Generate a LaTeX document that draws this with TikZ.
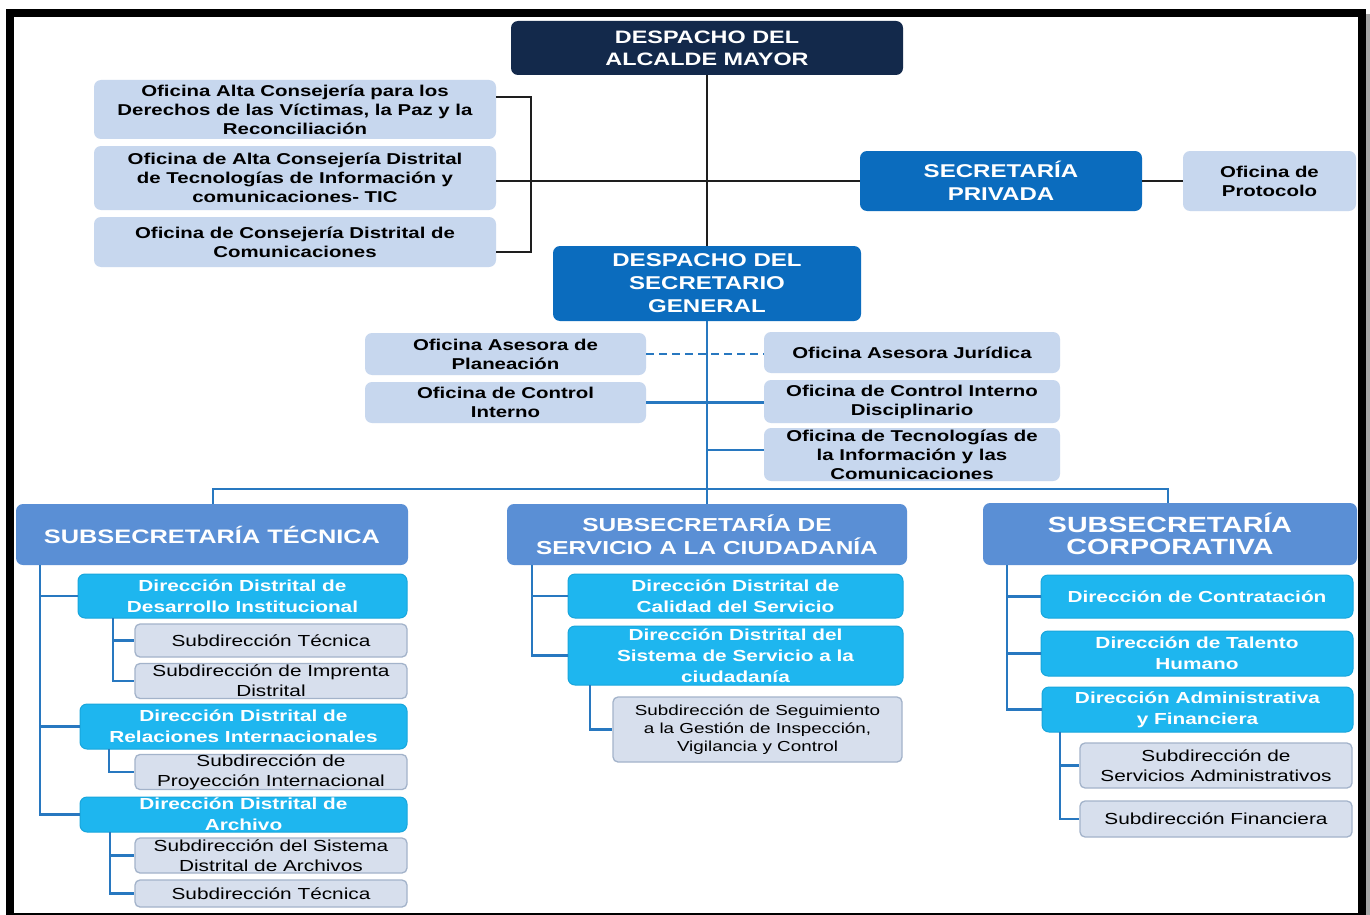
\documentclass[tikz,border=0pt]{standalone}
\usepackage{fontspec}
\setmainfont[FakeStretch=1.3]{Liberation Sans}
\definecolor{navy}{HTML}{13294B}
\definecolor{mblue}{HTML}{0B6CBE}
\definecolor{subsc}{HTML}{5A8FD5}
\definecolor{cyanb}{HTML}{1EB6EF}
\definecolor{cyanedge}{HTML}{18A6DC}
\definecolor{lightb}{HTML}{C7D7EE}
\definecolor{subdf}{HTML}{D7DFED}
\definecolor{subde}{HTML}{A3B3CA}
\definecolor{lineb}{HTML}{2878C0}
\definecolor{lineblk}{HTML}{1E1E1E}
\tikzset{
  wh/.style 2 args={minimum width=#1pt, minimum height=#2pt},
  box/.style={rounded corners=7pt, inner sep=0pt, align=center},
  navyb/.style={box, fill=navy, text=white, font=\bfseries\fontsize{18}{22}\selectfont},
  blueb/.style={box, fill=mblue, text=white, font=\bfseries\fontsize{18.5}{23}\selectfont},
  off/.style={box, fill=lightb, text=black, font=\bfseries\fontsize{15.7}{19}\selectfont},
  subs/.style={box, fill=subsc, text=white, font=\bfseries\fontsize{18.8}{23}\selectfont},
  dirb/.style={box, fill=cyanb, draw=cyanedge, line width=1pt, text=white, font=\bfseries\fontsize{16}{21}\selectfont},
  subd/.style={box, rounded corners=5pt, fill=subdf, draw=subde, line width=1.3pt, text=black, font=\fontsize{16}{20}\selectfont},
  blk/.style={draw=lineblk, line width=2pt},
  bl/.style={draw=lineb, line width=2.5pt},
}
\begin{document}
\begin{tikzpicture}[x=1pt,y=-1pt]
\useasboundingbox (0,0) rectangle (1370,915);
\fill[white] (0,0) rectangle (1370,915);

% ---------- top level ----------
\node[navyb, wh={392}{54}] (alc) at (707,48) {DESPACHO DEL\\ALCALDE MAYOR};
\node[off, wh={402}{59}] (of1) at (295,109.5) {Oficina Alta Consejería para los\\Derechos de las Víctimas, la Paz y la\\Reconciliación};
\node[off, wh={402}{64}] (of2) at (295,178) {Oficina de Alta Consejería Distrital\\de Tecnologías de Información y\\comunicaciones- TIC};
\node[off, wh={402}{50}] (of3) at (295,242) {Oficina de Consejería Distrital de\\Comunicaciones};
\node[blueb, wh={282}{60}] (sp) at (1001,181) {SECRETARÍA\\PRIVADA};
\node[off, wh={173}{60}] (prot) at (1269.5,181) {Oficina de\\Protocolo};
\node[blueb, wh={308}{75}] (dsg) at (707,283.5) {DESPACHO DEL\\SECRETARIO\\GENERAL};

% ---------- advisory offices ----------
\node[off, wh={281}{42}] (plan) at (505.5,354) {Oficina Asesora de\\Planeación};
\node[off, wh={281}{41}] (oci) at (505.5,402.5) {Oficina de Control\\Interno};
\node[off, wh={296}{41}] (jur) at (912,352.5) {Oficina Asesora Jurídica};
\node[off, wh={296}{43}] (ocid) at (912,401.5) {Oficina de Control Interno\\Disciplinario};
\node[off, wh={296}{53}] (otic) at (912,454.5) {Oficina de Tecnologías de\\la Información y las\\Comunicaciones};

% ---------- subsecretarias ----------
\node[subs, wh={392}{61}, font=\bfseries\fontsize{19.5}{23}\selectfont] (sstec) at (212,534.5) {SUBSECRETARÍA TÉCNICA};
\node[subs, wh={400}{61}] (ssc) at (707,534.5) {SUBSECRETARÍA DE\\SERVICIO A LA CIUDADANÍA};
\node[subs, wh={374}{62}, font=\bfseries\fontsize{22}{22}\selectfont] (scorp) at (1170,534) {SUBSECRETARÍA\\CORPORATIVA};

% ---------- left column ----------
\node[dirb, wh={329}{44}] (dddi) at (242.5,596) {Dirección Distrital de\\Desarrollo Institucional};
\node[subd, wh={272}{33}] (st1) at (271,640.5) {Subdirección Técnica};
\node[subd, wh={272}{35}] (simp) at (271,681) {Subdirección de Imprenta\\Distrital};
\node[dirb, wh={327}{45}] (ddri) at (243.5,726.5) {Dirección Distrital de\\Relaciones Internacionales};
\node[subd, wh={272}{32}] (sproy) at (271,772) {Subdirección de\\Proyección Internacional};
\node[dirb, wh={327}{35}] (dda) at (243.5,814.5) {Dirección Distrital de\\Archivo};
\node[subd, wh={272}{35}] (ssis) at (271,855.5) {Subdirección del Sistema\\Distrital de Archivos};
\node[subd, wh={272}{27}] (st2) at (271,893.5) {Subdirección Técnica};

% ---------- middle column ----------
\node[dirb, wh={335}{44}] (ddcs) at (735.5,596) {Dirección Distrital de\\Calidad del Servicio};
\node[dirb, wh={335}{59}] (ddss) at (735.5,655.5) {Dirección Distrital del\\Sistema de Servicio a la\\ciudadanía};
\node[subd, wh={289}{65}, font=\fontsize{14.5}{18}\selectfont] (sseg) at (757.5,729.5) {Subdirección de Seguimiento\\a la Gestión de Inspección,\\Vigilancia y Control};

% ---------- right column ----------
\node[dirb, wh={312}{43}] (dc) at (1197,596.5) {Dirección de Contratación};
\node[dirb, wh={312}{45}] (dth) at (1197,653.5) {Dirección de Talento\\Humano};
\node[dirb, wh={311}{45}] (daf) at (1197.5,709.5) {Dirección Administrativa\\y Financiera};
\node[subd, wh={272}{45}] (ssa) at (1216,765.5) {Subdirección de\\Servicios Administrativos};
\node[subd, wh={272}{36}] (sf) at (1216,819) {Subdirección Financiera};

% ---------- connectors: top (black) ----------
\draw[blk] (alc.south) -- (dsg.north);
\draw[blk] ([yshift=12.5pt]of1.east) -- ++(35,0) |- ([yshift=-10pt]of3.east);
\draw[blk] (sp.west -| of2.east) -- (sp.west);
\draw[blk] (sp.east) -- (prot.west);

% ---------- connectors: middle (blue) ----------
\coordinate (busL) at (213,489);
\coordinate (busR) at (1168,489);
\draw[bl, dash pattern=on 8pt off 5pt, line width=2pt] (plan.east) -- (jur.west |- plan.east);
\draw[bl] (oci.east) -- (ocid.west |- oci.east);
\draw[bl] ([yshift=4.5pt]otic.west) -- ([yshift=4.5pt]otic.west -| dsg.south);
\draw[bl] (dsg.south) -- (ssc.north);
\draw[bl] (sstec.north -| busL) -- (busL) -- (busR) -- (scorp.north -| busR);

% ---------- connectors: left column ----------
\coordinate (tv) at (40,565);
\draw[bl] (tv) |- (dddi.west);
\draw[bl] (tv) |- (ddri.west);
\draw[bl] (tv) |- (dda.west);
\coordinate (t1) at (113,618);
\draw[bl] (t1) |- (st1.west);
\draw[bl] (t1) |- (simp.west);
\coordinate (t2) at (109,749);
\draw[bl] (t2) |- (sproy.west);
\coordinate (t3) at (110,832);
\draw[bl] (t3) |- (ssis.west);
\draw[bl] (t3) |- (st2.west);

% ---------- connectors: middle column ----------
\coordinate (mv) at (532,565);
\draw[bl] (mv) |- (ddcs.west);
\draw[bl] (mv) |- (ddss.west);
\coordinate (m1) at (590,685);
\draw[bl] (m1) |- (sseg.west);

% ---------- connectors: right column ----------
\coordinate (rv) at (1007,565);
\draw[bl] (rv) |- (dc.west);
\draw[bl] (rv) |- (dth.west);
\draw[bl] (rv) |- (daf.west);
\coordinate (r1) at (1060,732);
\draw[bl] (r1) |- (ssa.west);
\draw[bl] (r1) |- (sf.west);

% ---------- frame ----------
\fill[black] (6,9) rectangle (1366,17);
\fill[black] (6,9) rectangle (14,915);
\fill[black] (1358,9) rectangle (1366,915);
\fill[black] (6,913) rectangle (1366,915);
\fill[black!35] (1366,14) rectangle (1370,915);
\end{tikzpicture}
\end{document}
